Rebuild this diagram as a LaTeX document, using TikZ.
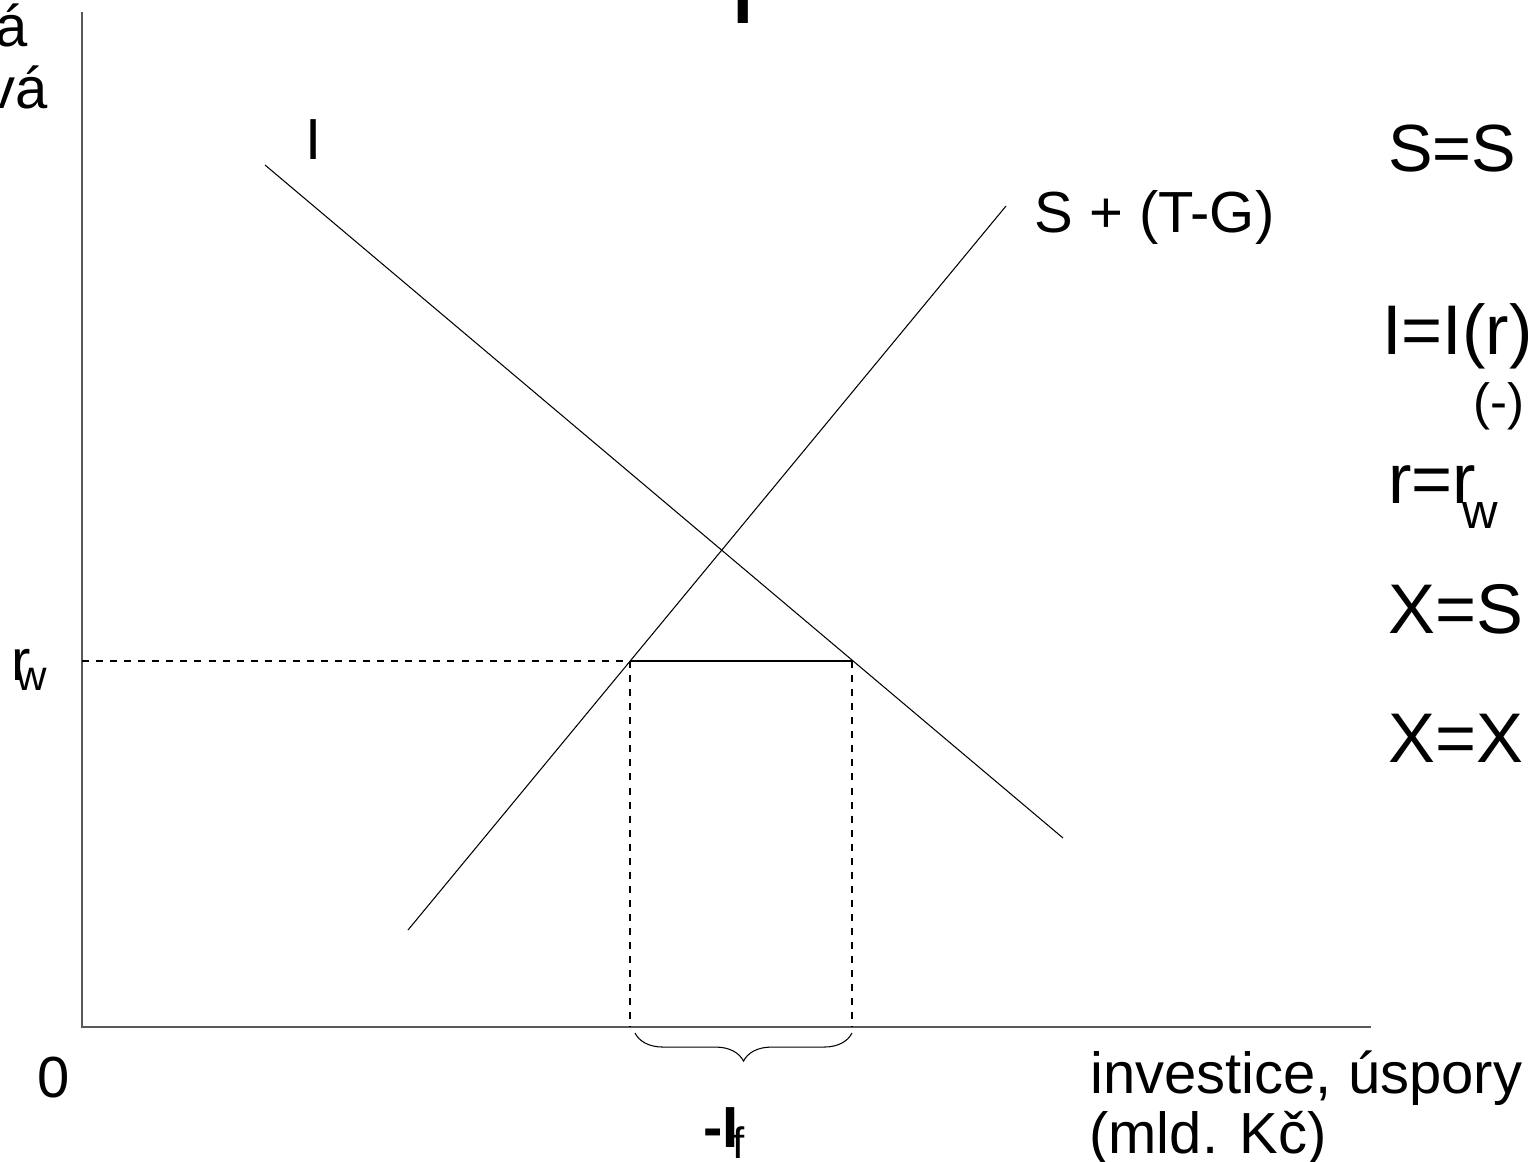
\documentclass[tikz,border=0pt]{standalone}
\usepackage{fontspec}
\setmainfont{Liberation Sans}
\usetikzlibrary{positioning, decorations.pathreplacing}

\begin{document}
\begin{tikzpicture}[
  x=0.02cm, y=-0.02cm,
  txt/.style={inner sep=0pt, anchor=base west, font=\fontsize{33}{36}\selectfont},
  eq/.style={inner sep=0pt, anchor=base west, font=\fontsize{40}{44}\selectfont},
  sub/.style={inner sep=0pt, anchor=base west, font=\fontsize{24}{26}\selectfont},
  axis/.style={draw=black!65, line width=0.9pt},
  curve/.style={line width=0.6pt},
  guide/.style={line width=0.6pt, dash pattern=on 4pt off 4pt},
]
  \clip (0,0) rectangle (1537,1162);

  % axes
  \coordinate (top)  at (82,12);
  \coordinate (orig) at (82,1027);
  \coordinate (xend) at (1371,1027);
  \draw[axis] (top) -- (orig) -- (xend);

  % curves
  \coordinate (I1) at (265,165);
  \coordinate (I2) at (1063,838);
  \coordinate (S1) at (408,930);
  \coordinate (S2) at (1006,206);
  \draw[curve] (I1) -- (I2);
  \draw[curve] (S1) -- (S2);

  % world rate and gap
  \coordinate (ry) at (82,661);
  \coordinate (sA) at (630,661);
  \coordinate (iB) at (852,661);
  \coordinate (sA0) at (630,1027);
  \coordinate (iB0) at (852,1027);
  \draw[guide] (ry) -- (sA);
  \draw[curve] (sA) -- (iB);
  \draw[guide] (sA) -- (sA0);
  \draw[guide] (iB) -- (iB0);
  \draw[curve, decorate, decoration={brace, mirror, amplitude=16pt}]
    (635,1033) -- (852,1033);

  % labels
  \node[txt, anchor=base, font=\fontsize{40}{44}\selectfont\bfseries] (ttl) at (743,24) {I};
  \node[txt, anchor=base east] (ya)  at (28,47)  {á};
  \node[txt, anchor=base east] (yva) at (48,109) {vá};
  \node[txt] (lI) at (305,160) {I};
  \node[txt] (lS) at (1034,233) {S + (T-G)};
  \node[txt] (rw) at (11,680) {r};
  \node[sub] (rwsub) at (16,690) {w};
  \node[txt] (zero) at (37,1097) {0};
  \node[txt] (xl1) at (1090,1093) {investice, úspory};
  \node[txt] (xl2) at (1089,1153) {(mld. Kč)};
  \node[txt, font=\fontsize{33}{36}\selectfont\bfseries] (If) at (703,1147) {-I};
  \node[sub, font=\fontsize{25}{27}\selectfont] (Ifsub) at (732,1158) {f};

  % equations
  \node[eq, font=\fontsize{38}{41}\selectfont] (e1) at (1388,172) {S=S};
  \node[eq] (e2) at (1382,354) {I=I(r)};
  \node[eq, font=\fontsize{29}{31}\selectfont] (e2s) at (1473,419) {(-)};
  \node[eq] (e3) at (1388,503) {r=r};
  \node[sub, font=\fontsize{28}{30}\selectfont] (e3s) at (1462,528) {w};
  \node[eq] (e4) at (1388,633) {X=S};
  \node[eq] (e5) at (1388,762) {X=X};
\end{tikzpicture}
\end{document}
